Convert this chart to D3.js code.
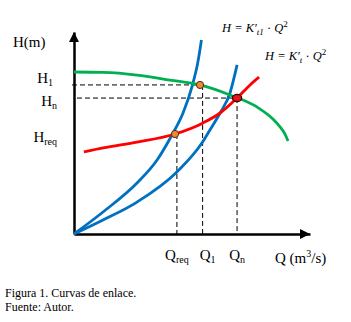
<!DOCTYPE html>
<html>
<head>
<meta charset="utf-8">
<script src="https://cdn.jsdelivr.net/npm/d3@7"></script>
<style>
  body { margin: 0; background: #fff; }
  text { font-family: "Liberation Serif", "Times New Roman", serif; fill: #000; }
</style>
</head>
<body>
<div id="chart"></div>
<script>
// curve points, [Q, H] in arbitrary units (0..10 on each axis)
const pumpCurve = [[0, 8.02], [1.23, 8.0], [2.67, 7.87], [4.07, 7.62], [5.34, 7.38], [6.61, 6.88], [7.75, 6.29], [8.43, 5.69], [8.73, 5.3], [8.94, 4.95], [9.07, 4.6]];
const requiredCurve = [[0.42, 4.06], [1.23, 4.26], [2.67, 4.55], [4.28, 4.95], [5.47, 5.5], [6.19, 5.99], [6.91, 6.73], [7.46, 7.38], [7.84, 7.77]];
const systemCurveT1 = [[0, 0], [1.23, 1.09], [2.67, 2.52], [3.52, 3.66], [4.15, 4.9], [4.62, 5.99], [5.0, 7.3], [5.25, 8.51], [5.4, 9.6]];
const systemCurveT = [[0, 0], [1.23, 0.69], [2.67, 1.58], [4.36, 3.07], [5.42, 4.5], [5.76, 5.15], [6.19, 5.99], [6.61, 6.98], [6.91, 8.37]];

// operating points
const pointReq = [4.28, 4.95];
const point1 = [5.34, 7.38];
const pointN = [6.91, 6.73];

// axis tick labels
const qTicks = [4.36, 5.45, 6.91];
const qLabels = [["Q", "req"], ["Q", "1"], ["Q", "n"]];
const hTicks = [7.38, 6.73, 4.95];
const hLabels = [["H", "1"], ["H", "n"], ["H", "req"]];

const width = 351, height = 322;
const svg = d3.select("#chart").append("svg")
    .attr("width", width)
    .attr("height", height);

const x = d3.scaleLinear().domain([0, 10]).range([74, 310]);
const y = d3.scaleLinear().domain([0, 10]).range([234, 32]);

const line = d3.line()
    .x(d => x(d[0]))
    .y(d => y(d[1]))
    .curve(d3.curveMonotoneX);

// dashed guide lines
const dash = svg.append("g")
    .attr("stroke", "#000")
    .attr("stroke-width", 1)
    .attr("stroke-dasharray", "5,3");
dash.append("line")
    .attr("x1", x(0) - 2).attr("x2", x(point1[0]))
    .attr("y1", y(point1[1])).attr("y2", y(point1[1]));
dash.append("line")
    .attr("x1", x(0) + 3).attr("x2", x(pointN[0]))
    .attr("y1", y(pointN[1])).attr("y2", y(pointN[1]));
qTicks.forEach((q, i) => {
    const top = [pointReq, point1, pointN][i][1];
    dash.append("line")
        .attr("x1", x(q)).attr("x2", x(q))
        .attr("y1", y(top)).attr("y2", y(0));
});

// axes
const xAxis = svg.append("g")
    .attr("transform", `translate(0,${y(0)})`)
    .call(d3.axisBottom(x).tickValues([]).tickSizeOuter(0));
const yAxis = svg.append("g")
    .attr("transform", `translate(${x(0)},0)`)
    .call(d3.axisLeft(y).tickValues([]).tickSizeOuter(0));
svg.selectAll(".domain").attr("stroke", "#000").attr("stroke-width", 2.5);

// arrow heads
svg.append("path")
    .attr("d", `M${x(10)},${y(0)} L${x(10) - 10},${y(0) - 5} L${x(10) - 10},${y(0) + 5} Z`)
    .attr("fill", "#000");
svg.append("path")
    .attr("d", `M${x(0)},${y(10)} L${x(0) - 5},${y(10) + 10} L${x(0) + 5},${y(10) + 10} Z`)
    .attr("fill", "#000");

// curves
const curves = [
    {data: systemCurveT1, color: "#0070c0"},
    {data: systemCurveT, color: "#0070c0"},
    {data: requiredCurve, color: "#ff0000"},
    {data: pumpCurve, color: "#00b050"}
];
svg.append("g").selectAll("path")
    .data(curves)
    .join("path")
    .attr("d", d => line(d.data))
    .attr("fill", "none")
    .attr("stroke", d => d.color)
    .attr("stroke-width", 2.8);

// points
svg.append("g").selectAll("circle")
    .data([pointReq, point1])
    .join("circle")
    .attr("cx", d => x(d[0]))
    .attr("cy", d => y(d[1]))
    .attr("r", 3.6)
    .attr("fill", "#f0883a")
    .attr("stroke", "#4a3010")
    .attr("stroke-width", 1);
svg.append("ellipse")
    .attr("cx", x(pointN[0]))
    .attr("cy", y(pointN[1]))
    .attr("rx", 4.6).attr("ry", 3.6)
    .attr("fill", "#e8141c")
    .attr("stroke", "#300")
    .attr("stroke-width", 1.2);

// sub-scripted labels
function subLabel(g, parts, size) {
    g.append("tspan").text(parts[0]);
    g.append("tspan").attr("font-size", size).attr("dy", 3).text(parts[1]);
}

const qOffsets = [0, 5, 0];
qTicks.forEach((q, i) => {
    const t = svg.append("text")
        .attr("x", x(q) + qOffsets[i])
        .attr("y", 260)
        .attr("text-anchor", "middle")
        .attr("font-size", 15);
    subLabel(t, qLabels[i], 10);
});

const hOffsets = [-2, 8, 8];
const hRight = [53, 57, 57];
hTicks.forEach((h, i) => {
    const t = svg.append("text")
        .attr("x", hRight[i])
        .attr("y", y(h) + hOffsets[i])
        .attr("text-anchor", "end")
        .attr("font-size", 15);
    subLabel(t, hLabels[i], 10);
});

// axis titles
svg.append("text").attr("x", 13).attr("y", 47).attr("font-size", 15).text("H(m)");
const qTitle = svg.append("text").attr("x", 275).attr("y", 263).attr("font-size", 15);
qTitle.append("tspan").text("Q (m");
qTitle.append("tspan").attr("font-size", 10).attr("dy", -6).text("3");
qTitle.append("tspan").attr("dy", 6).text("/s)");

// equations
function equation(px, py, sub) {
    const t = svg.append("text")
        .attr("x", px).attr("y", py)
        .attr("font-size", 12.5)
        .attr("font-style", "italic");
    t.append("tspan").text("H = K′");
    t.append("tspan").attr("font-size", 9).attr("dy", 3).text(sub);
    t.append("tspan").attr("dy", -3).attr("font-style", "normal").text(" · ");
    t.append("tspan").text("Q");
    t.append("tspan").attr("font-size", 9).attr("dy", -5).attr("font-style", "normal").text("2");
}
equation(222, 32, "t1");
equation(265, 60, "t");

// caption
svg.append("text").attr("x", 5).attr("y", 297).attr("font-size", 12).text("Figura 1. Curvas de enlace.");
svg.append("text").attr("x", 5).attr("y", 311).attr("font-size", 12).text("Fuente: Autor.");
</script>
</body>
</html>
